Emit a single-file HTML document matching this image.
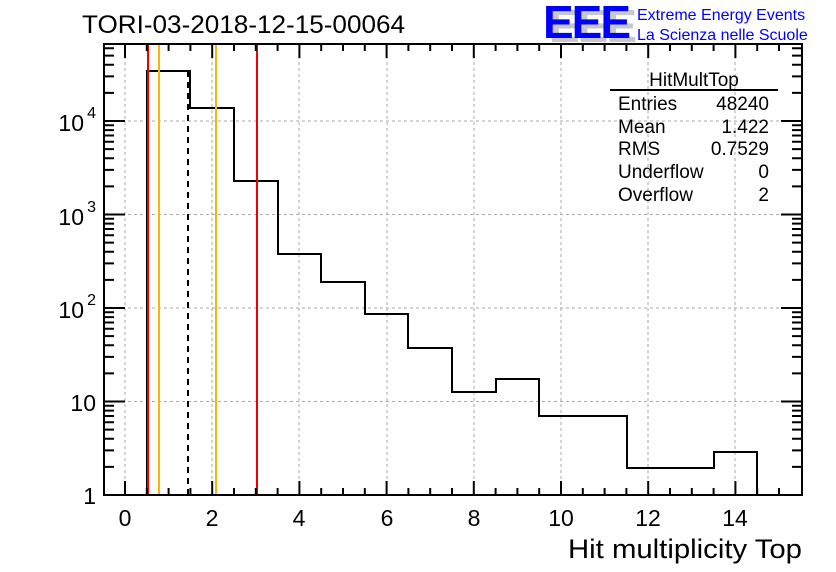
<!DOCTYPE html>
<html><head><meta charset="utf-8"><style>
body{margin:0;background:#fff}
svg{display:block;font-family:"Liberation Sans",Arial,sans-serif}
</style></head><body>
<svg width="836" height="572" viewBox="0 0 836 572" xmlns="http://www.w3.org/2000/svg">
<rect width="836" height="572" fill="#fff"/>
<g stroke="#aaa" stroke-width="1" stroke-dasharray="3,3">
<line x1="125" y1="44" x2="125" y2="495"/><line x1="212" y1="44" x2="212" y2="495"/>
<line x1="299" y1="44" x2="299" y2="495"/><line x1="387" y1="44" x2="387" y2="495"/>
<line x1="474" y1="44" x2="474" y2="495"/><line x1="561" y1="44" x2="561" y2="495"/>
<line x1="648" y1="44" x2="648" y2="495"/><line x1="735" y1="44" x2="735" y2="495"/>
<line x1="104" y1="401.5" x2="802" y2="401.5"/><line x1="104" y1="308" x2="802" y2="308"/>
<line x1="104" y1="214.5" x2="802" y2="214.5"/><line x1="104" y1="121" x2="802" y2="121"/>
</g>
<polyline fill="none" stroke="#000" stroke-width="2" points="147,495 147,71 190,71 190,108 234,108 234,181 278,181 278,254 321,254 321,282 365,282 365,314 408,314 408,348 452,348 452,392 496,392 496,379 539,379 539,416 583,416 627,416 627,468 670,468 714,468 714,452 757,452 757,495"/>
<line x1="148" y1="44" x2="148" y2="495" stroke="#e00" stroke-width="2"/>
<line x1="257" y1="44" x2="257" y2="495" stroke="#e00" stroke-width="2"/>
<line x1="159" y1="44" x2="159" y2="495" stroke="#f5b800" stroke-width="2"/>
<line x1="216" y1="44" x2="216" y2="495" stroke="#f5b800" stroke-width="2"/>
<line x1="188" y1="71" x2="188" y2="495" stroke="#000" stroke-width="2" stroke-dasharray="6,5"/>
<rect x="104" y="44" width="698" height="451" fill="none" stroke="#000" stroke-width="2"/>
<g stroke="#000" stroke-width="2" fill="none">
<path d="M125 495v-14M212.2 495v-14M299.4 495v-14M386.6 495v-14M473.8 495v-14M561 495v-14M648.2 495v-14M735.4 495v-14
M146.8 495v-7M168.6 495v-7M190.4 495v-7M234 495v-7M255.8 495v-7M277.6 495v-7M321.2 495v-7M343 495v-7M364.8 495v-7M408.4 495v-7M430.2 495v-7M452 495v-7M495.6 495v-7M517.4 495v-7M539.2 495v-7M582.8 495v-7M604.6 495v-7M626.4 495v-7M670 495v-7M691.8 495v-7M713.6 495v-7M757.2 495v-7M779 495v-7
M125 44v14M212.2 44v14M299.4 44v14M386.6 44v14M473.8 44v14M561 44v14M648.2 44v14M735.4 44v14
M146.8 44v7M168.6 44v7M190.4 44v7M234 44v7M255.8 44v7M277.6 44v7M321.2 44v7M343 44v7M364.8 44v7M408.4 44v7M430.2 44v7M452 44v7M495.6 44v7M517.4 44v7M539.2 44v7M582.8 44v7M604.6 44v7M626.4 44v7M670 44v7M691.8 44v7M713.6 44v7M757.2 44v7M779 44v7"/>
<path d="M104 401.5h21M104 308h21M104 214.5h21M104 121h21
M104 466.9h10M104 450.4h10M104 438.7h10M104 429.6h10M104 422.2h10M104 416h10M104 410.6h10M104 405.8h10
M104 373.4h10M104 356.9h10M104 345.2h10M104 336.1h10M104 328.7h10M104 322.5h10M104 317.1h10M104 312.3h10
M104 279.9h10M104 263.4h10M104 251.7h10M104 242.6h10M104 235.2h10M104 229h10M104 223.6h10M104 218.8h10
M104 186.4h10M104 169.9h10M104 158.2h10M104 149.1h10M104 141.7h10M104 135.5h10M104 130.1h10M104 125.3h10
M104 92.9h10M104 76.4h10M104 64.7h10M104 55.6h10M104 48.2h10"/>
<path d="M802 401.5h-21M802 308h-21M802 214.5h-21M802 121h-21
M802 466.9h-10M802 450.4h-10M802 438.7h-10M802 429.6h-10M802 422.2h-10M802 416h-10M802 410.6h-10M802 405.8h-10
M802 373.4h-10M802 356.9h-10M802 345.2h-10M802 336.1h-10M802 328.7h-10M802 322.5h-10M802 317.1h-10M802 312.3h-10
M802 279.9h-10M802 263.4h-10M802 251.7h-10M802 242.6h-10M802 235.2h-10M802 229h-10M802 223.6h-10M802 218.8h-10
M802 186.4h-10M802 169.9h-10M802 158.2h-10M802 149.1h-10M802 141.7h-10M802 135.5h-10M802 130.1h-10M802 125.3h-10
M802 92.9h-10M802 76.4h-10M802 64.7h-10M802 55.6h-10M802 48.2h-10"/>
</g>
<g font-size="23" fill="#000" text-anchor="middle">
<text x="125" y="526">0</text><text x="212" y="526">2</text><text x="299" y="526">4</text>
<text x="387" y="526">6</text><text x="474" y="526">8</text><text x="561" y="526">10</text>
<text x="648" y="526">12</text><text x="735" y="526">14</text>
</g>
<g font-size="23" fill="#000" text-anchor="end">
<text x="96" y="504">1</text><text x="96" y="411">10</text>
<text x="84" y="318">10</text><text x="84" y="225">10</text><text x="84" y="131">10</text>
<text x="96" y="305" font-size="16">2</text><text x="96" y="212" font-size="16">3</text><text x="96" y="118" font-size="16">4</text>
</g>
<text x="802" y="558" font-size="27" text-anchor="end" textLength="234" lengthAdjust="spacingAndGlyphs">Hit multiplicity Top</text>
<text x="82" y="33" font-size="25" textLength="323" lengthAdjust="spacingAndGlyphs">TORI-03-2018-12-15-00064</text>
<g font-size="46" font-weight="bold" letter-spacing="-2">
<text x="549" y="42" fill="#c8c8c8" textLength="86" lengthAdjust="spacingAndGlyphs">EEE</text>
<text x="543" y="38" fill="#0000ff" textLength="86" lengthAdjust="spacingAndGlyphs">EEE</text>
</g>
<text x="637" y="20" font-size="16" fill="#0000ff">Extreme Energy Events</text>
<text x="637" y="40" font-size="16" fill="#0000ff">La Scienza nelle Scuole</text>
<g font-size="19" fill="#000">
<text x="694" y="86" text-anchor="middle">HitMultTop</text>
<line x1="610" y1="90" x2="778" y2="90" stroke="#000" stroke-width="2"/>
<text x="618" y="110">Entries</text><text x="769" y="110" text-anchor="end">48240</text>
<text x="618" y="133">Mean</text><text x="769" y="133" text-anchor="end">1.422</text>
<text x="618" y="155">RMS</text><text x="769" y="155" text-anchor="end">0.7529</text>
<text x="618" y="178">Underflow</text><text x="769" y="178" text-anchor="end">0</text>
<text x="618" y="201">Overflow</text><text x="769" y="201" text-anchor="end">2</text>
</g>
</svg>
</body></html>
